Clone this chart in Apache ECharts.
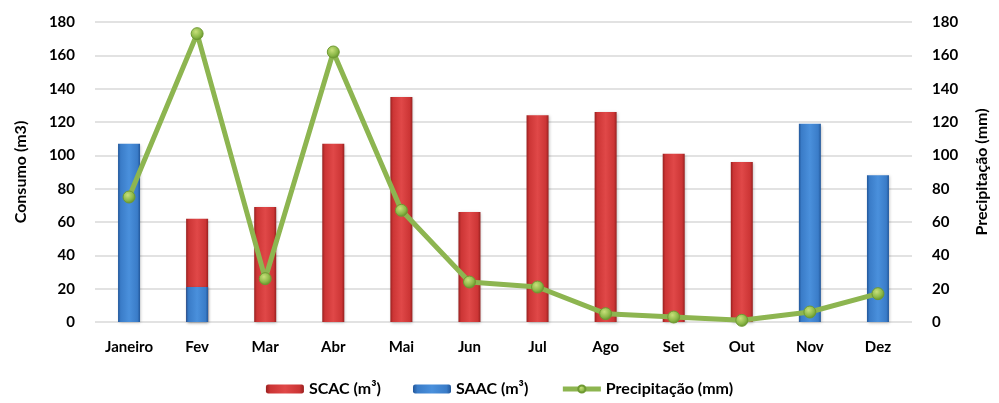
<!DOCTYPE html>
<html>
<head>
<meta charset="utf-8">
<script src="https://cdn.jsdelivr.net/npm/echarts@6/dist/echarts.min.js"></script>
<style>
  html, body { margin: 0; padding: 0; background: #fff; }
  #chart { width: 999px; height: 403px; }
</style>
</head>
<body>
<div id="chart"></div>
<script>
// Monthly consumption (m³) and rainfall (mm)
const months = ['Janeiro', 'Fev', 'Mar', 'Abr', 'Mai', 'Jun', 'Jul', 'Ago', 'Set', 'Out', 'Nov', 'Dez'];
const scac = [null, 62, 69, 107, 135, 66, 124, 126, 101, 96, null, null];
const saac = [107, 21, null, null, null, null, null, null, null, null, 119, 88];
const precipitacao = [75, 173, 26, 162, 67, 24, 21, 5, 3, 1, 6, 17];
const axisTicks = [0, 20, 40, 60, 80, 100, 120, 140, 160, 180];

const FONT = 'Lato';

function bevel(light, mid, dark) {
  return new echarts.graphic.LinearGradient(0, 0, 1, 0, [
    { offset: 0, color: dark },
    { offset: 0.12, color: mid },
    { offset: 0.5, color: light },
    { offset: 0.88, color: mid },
    { offset: 1, color: dark }
  ]);
}

const redFill = bevel('#e04848', '#cc3535', '#98201f');
const blueFill = bevel('#4a90dc', '#3a7cc8', '#22579a');
const greenDot = new echarts.graphic.RadialGradient(0.4, 0.35, 0.7, [
  { offset: 0, color: '#c8e07a' },
  { offset: 0.6, color: '#8cb848' },
  { offset: 1, color: '#5c8a25' }
]);

const axisLabelStyle = { color: '#000', fontFamily: FONT, fontWeight: 'bold', fontSize: 15 };

const chart = echarts.init(document.getElementById('chart'), null, { renderer: 'canvas' });
chart.setOption({
  animation: false,
  backgroundColor: '#fff',
  textStyle: { fontFamily: FONT },
  grid: { left: 95, right: 87, top: 22, bottom: 81 },
  legend: {
    bottom: 1,
    left: 'center',
    itemGap: 32,
    itemWidth: 38,
    itemHeight: 9,
    textStyle: { color: '#000', fontFamily: FONT, fontWeight: 'bold', fontSize: 16 },
    data: [
      { name: 'SCAC (m³)', itemStyle: { color: redFill } },
      { name: 'SAAC (m³)', itemStyle: { color: blueFill } },
      { name: 'Precipitação (mm)', lineStyle: { width: 5, color: '#8db550' } }
    ]
  },
  xAxis: {
    type: 'category',
    data: months,
    axisLine: { show: false },
    axisTick: { show: false },
    axisLabel: Object.assign({ margin: 18 }, axisLabelStyle)
  },
  yAxis: [
    {
      type: 'value', min: 0, max: 180, interval: 20,
      name: 'Consumo (m3)', nameLocation: 'middle', nameGap: 66,
      nameTextStyle: { color: '#000', fontFamily: FONT, fontWeight: 'bold', fontSize: 16 },
      axisLine: { show: false }, axisTick: { show: false },
      axisLabel: Object.assign({ margin: 20 }, axisLabelStyle),
      splitLine: { lineStyle: { color: '#d9d9d9', width: 1.5 } }
    },
    {
      type: 'value', min: 0, max: 180, interval: 20,
      name: 'Precipitação (mm)', nameLocation: 'middle', nameGap: 62, nameRotate: 90,
      nameTextStyle: { color: '#000', fontFamily: FONT, fontWeight: 'bold', fontSize: 16 },
      axisLine: { show: false }, axisTick: { show: false },
      axisLabel: Object.assign({ margin: 20 }, axisLabelStyle),
      splitLine: { show: false }
    }
  ],
  series: [
    {
      name: 'SCAC (m³)', type: 'bar', data: scac, barWidth: 22, barGap: '-100%',
      itemStyle: { color: redFill, shadowColor: 'rgba(0,0,0,0.25)', shadowBlur: 3, shadowOffsetX: 1, shadowOffsetY: 1 }
    },
    {
      name: 'SAAC (m³)', type: 'bar', data: saac, barWidth: 22, barGap: '-100%',
      itemStyle: { color: blueFill, shadowColor: 'rgba(0,0,0,0.25)', shadowBlur: 3, shadowOffsetX: 1, shadowOffsetY: 1 }
    },
    {
      name: 'Precipitação (mm)', type: 'line', yAxisIndex: 1, data: precipitacao,
      symbol: 'circle', symbolSize: 12,
      lineStyle: { color: '#8db550', width: 5 },
      itemStyle: { color: greenDot, borderColor: '#6f9a32', borderWidth: 1 },
      z: 5
    }
  ]
});
</script>
</body>
</html>
